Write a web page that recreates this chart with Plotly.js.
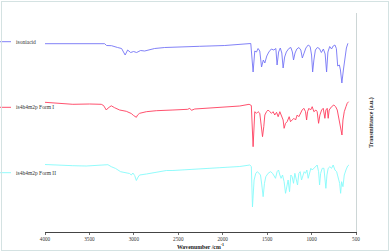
<!DOCTYPE html>
<html>
<head>
<meta charset="utf-8">
<script src="https://cdn.plot.ly/plotly-3.0.1.min.js"></script>
<style>
html,body{margin:0;padding:0;background:#fff;}
#wrap{position:relative;width:390px;height:252px;}
#chart{width:390px;height:252px;}
#frame{position:absolute;left:1px;top:1px;width:386px;height:248px;border:1px solid #d4e2e2;pointer-events:none;}
</style>
</head>
<body>
<div id="wrap"><div id="chart"></div><div id="frame"></div></div>
<script>
// Series names
const seriesNames = ['isoniacid', 'is4h4m2p Form I', 'is4h4m2p Form II'];
// X tick labels (wavenumber, cm^-1)
const tickValues = [4000, 3500, 3000, 2500, 2000, 1500, 1000, 500];

// isoniacid (stacked transmittance, a.u.)
const isoWn = [4000,3724,3329,3307,3251,3183,3138,3098,3070,3036,3003,2969,2924,2879,2822,2766,2653,2484,2259,1977,1718,1684,1658,1639,1620,1602,1583,1563,1543,1526,1504,1481,1453,1425,1402,1388,1371,1352,1335,1320,1303,1284,1256,1233,1216,1203,1186,1166,1143,1121,1104,1087,1064,1038,1016,1000,988,974,957,935,912,890,867,847,831,816,796,775,757,737,721,706,687,675,659,642,625,608,591];
const isoT  = [188.3,188.4,188.3,186.5,186.3,184.5,183.5,177,182,179.5,180.5,179.5,181.5,181,182.5,183.5,184.5,185.2,185.7,186.5,187.7,188.5,160,181,180,183.5,181,165,172,169,176,180,183,182,183.5,167,180,184,179,164,175,180,183.5,184.5,180,172,179,183,184.5,182,174,179,184,187,185.5,177,160,172,182,184.5,183.5,179.5,183,178,160,180,185.5,183,186,187,183.5,166,167,162,149,162,175,184,188.7];

// is4h4m2p Form I
const f1Wn = [4000,3837,3687,3498,3367,3341,3310,3290,3254,3217,3160,3085,3029,3003,2972,2958,2935,2859,2747,2560,2394,2371,2352,2315,2071,1808,1703,1678,1658,1639,1620,1602,1583,1563,1552,1538,1526,1507,1489,1470,1451,1433,1414,1394,1376,1357,1338,1320,1309,1293,1275,1252,1237,1219,1199,1180,1162,1143,1124,1106,1087,1068,1056,1045,1030,1011,993,974,951,937,921,906,887,869,850,839,824,813,802,775,749,729,711,696,681,670,658,647,632,613,599,583];
const f1T  = [129.7,128.5,127.7,128,127.7,126.5,122,124,126.2,124.3,122,120.7,118.5,116.5,114.7,117,118.7,120.3,121.3,122,122.7,123.7,121.7,123,124.3,126,127.7,126.5,85.3,120.3,118.7,120.3,118.7,103.7,95.3,105.3,117,120.3,122,120.3,118.7,120.3,117,119.7,115.3,120.3,115.3,112,103.7,108.7,110.3,115.3,110.3,112,113.7,112,117,115.3,118.7,122,123.7,120.3,112,120.3,123.7,122,125.3,120.3,122,120.3,108.7,117,122,123.7,113.7,122,123.7,113.7,122,125.3,127,125.3,122,113.7,107,103.7,97,112,120.3,125.3,128.7,130.3];

// is4h4m2p Form II
const f2Wn = [4000,3761,3687,3536,3386,3292,3254,3205,3149,3093,3048,3029,3011,2991,2972,2952,2935,2859,2747,2634,2560,2259,2033,1808,1695,1678,1665,1647,1628,1609,1590,1575,1560,1545,1530,1515,1489,1462,1439,1421,1406,1388,1372,1357,1343,1327,1309,1293,1278,1264,1248,1233,1219,1203,1188,1174,1158,1143,1128,1113,1098,1083,1068,1053,1038,1022,1008,993,977,955,937,921,910,898,880,861,850,839,827,813,794,775,757,737,718,700,684,673,662,647,632,613,594,579];
const f2T  = [67.5,66.3,66.3,66,66.7,67.3,65.3,63.5,60.3,59.5,58.5,57,59,56.5,51.5,55,57,58,60,61.5,61.5,63.5,64.3,65.5,67,65.5,25,52,58.7,60.3,58.7,57,47,35.3,48.7,55.3,58.7,60.3,58.7,55.3,53.7,60.3,62,57,53.7,57,50.3,38.7,47,52,40.3,57,55.3,48.7,58.7,53.7,47,58.7,60.3,52,57,60.3,58.7,62,53.7,60.3,63.7,62,63.7,65.3,67,60.3,47,58.7,63.7,63.7,55.3,43.7,57,63.7,65.3,63.7,67,62,60.3,53.7,48.7,38.7,50.3,45.3,57,62,66,67];

const colors = ['#7474f6', '#ff3d5e', '#86fbfb'];
const serif = 'Liberation Serif, Times New Roman, serif';

const traces = [
  {x: isoWn, y: isoT, name: seriesNames[0], legend: 'legend'},
  {x: f1Wn, y: f1T, name: seriesNames[1], legend: 'legend2'},
  {x: f2Wn, y: f2T, name: seriesNames[2], legend: 'legend3'}
].map((t, i) => Object.assign(t, {
  type: 'scatter', mode: 'lines',
  line: {color: colors[i], width: 0.9},
  hoverinfo: 'skip'
}));

const plotTop = 13, plotBottom = 232, plotLeft = 45, plotRight = 356;
function legendCfg(centerPx) {
  return {
    xref: 'paper', yref: 'paper',
    x: (-24 - plotLeft) / (plotRight - plotLeft),
    y: (plotBottom - centerPx) / (plotBottom - plotTop),
    xanchor: 'left', yanchor: 'middle',
    bgcolor: 'rgba(0,0,0,0)', borderwidth: 0,
    itemwidth: 30,
    font: {family: serif, size: 5.5, color: '#333'}
  };
}

const layout = {
  width: 390, height: 252,
  margin: {l: plotLeft, r: 390 - plotRight, t: plotTop, b: 252 - plotBottom, autoexpand: false},
  paper_bgcolor: '#fff', plot_bgcolor: '#fff',
  showlegend: true,
  xaxis: {
    range: [4000, 500], tickvals: tickValues, ticktext: tickValues.map(String),
    ticks: 'outside', ticklen: 2, tickwidth: 0.8, tickcolor: '#444',
    showline: true, linecolor: '#444', linewidth: 1,
    showgrid: false, zeroline: false,
    tickfont: {family: serif, size: 5.2, color: '#333'},
    title: {text: '<b>Wavenumber /cm<sup>-1</sup></b>', font: {family: serif, size: 5.8, color: '#222'}, standoff: 2}
  },
  yaxis: {
    range: [0, 219], side: 'right',
    showline: true, linecolor: '#cdd6d6', linewidth: 1,
    showticklabels: false, ticks: '', showgrid: false, zeroline: false,
    title: {text: '<b>Transmittance (a.u.)</b>', font: {family: serif, size: 5.8, color: '#222'}, standoff: 12}
  },
  legend: legendCfg(41.7),
  legend2: legendCfg(107.3),
  legend3: legendCfg(172.7)
};

Plotly.newPlot('chart', traces, layout, {displayModeBar: false, staticPlot: true});
</script>
</body>
</html>
